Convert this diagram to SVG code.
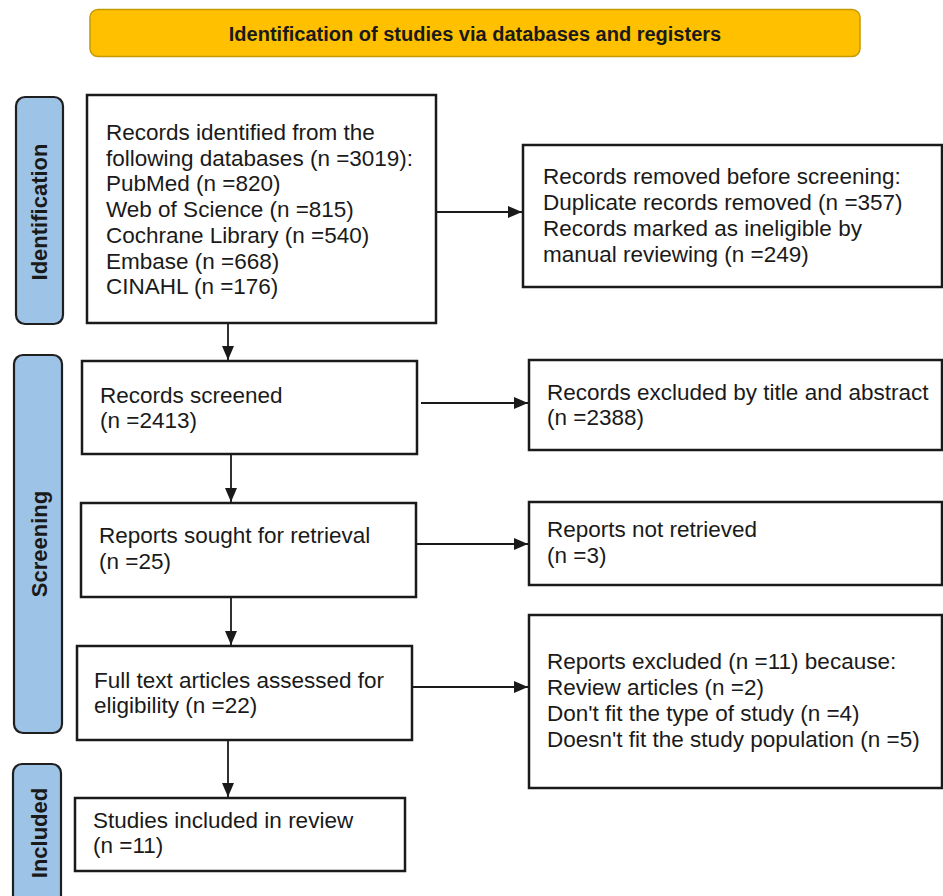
<svg xmlns="http://www.w3.org/2000/svg" width="943" height="896" viewBox="0 0 943 896">
<defs>
<style>
.box{fill:#ffffff;stroke:#1a1a1a;stroke-width:2.5}
.phase{fill:#9dc3e6;stroke:#1f1f1f;stroke-width:2.2}
.t{font-family:"Liberation Sans",Arial,sans-serif;font-size:22.5px;fill:#1a1a1a}
.pt{font-family:"Liberation Sans",Arial,sans-serif;font-size:22px;font-weight:bold;fill:#1a1a1a;text-anchor:middle}
.edge{stroke:#1a1a1a;stroke-width:1.8;fill:none;marker-end:url(#ah)}
</style>
<marker id="ah" markerUnits="userSpaceOnUse" markerWidth="14" markerHeight="12" refX="14" refY="6" orient="auto">
<path d="M0,0 L14,6 L0,12 Z" fill="#1a1a1a"/>
</marker>
</defs>
<rect width="943" height="896" fill="#ffffff"/>

<g id="banner">
<rect x="90" y="9.5" width="770" height="47" rx="8" fill="#ffc000" stroke="#c49a00" stroke-width="1.5"/>
<text x="475" y="40.5" font-family="Liberation Sans,Arial,sans-serif" font-size="20" font-weight="bold" fill="#1a1a1a" text-anchor="middle">Identification of studies via databases and registers</text>
</g>

<g id="phase-identification">
<rect class="phase" x="16" y="97" width="47" height="227" rx="9"/>
<text class="pt" transform="translate(47,212) rotate(-90)">Identification</text>
</g>
<g id="phase-screening">
<rect class="phase" x="14" y="355" width="48" height="378" rx="9"/>
<text class="pt" transform="translate(47,544) rotate(-90)">Screening</text>
</g>
<g id="phase-included">
<rect class="phase" x="13" y="764" width="48" height="150" rx="9"/>
<text class="pt" transform="translate(47,833) rotate(-90)">Included</text>
</g>

<g id="records-identified">
<rect class="box" x="87" y="95" width="349" height="228"/>
<text class="t" x="106" y="140">Records identified from the</text>
<text class="t" x="106" y="165.7">following databases (n =3019):</text>
<text class="t" x="106" y="191.4">PubMed (n =820)</text>
<text class="t" x="106" y="217.1">Web of Science (n =815)</text>
<text class="t" x="106" y="242.8">Cochrane Library (n =540)</text>
<text class="t" x="106" y="268.5">Embase (n =668)</text>
<text class="t" x="106" y="294.2">CINAHL (n =176)</text>
</g>

<g id="records-removed">
<rect class="box" x="523" y="145" width="419" height="142"/>
<text class="t" x="543" y="184">Records removed before screening:</text>
<text class="t" x="543" y="210">Duplicate records removed (n =357)</text>
<text class="t" x="543" y="236">Records marked as ineligible by</text>
<text class="t" x="543" y="262">manual reviewing (n =249)</text>
</g>

<g id="records-screened">
<rect class="box" x="82" y="361" width="335" height="93"/>
<text class="t" x="100" y="403">Records screened</text>
<text class="t" x="100" y="428">(n =2413)</text>
</g>

<g id="records-excluded">
<rect class="box" x="529" y="360" width="413" height="90"/>
<text class="t" x="547" y="400">Records excluded by title and abstract</text>
<text class="t" x="547" y="425">(n =2388)</text>
</g>

<g id="reports-sought">
<rect class="box" x="81" y="503" width="335" height="94"/>
<text class="t" x="99" y="543">Reports sought for retrieval</text>
<text class="t" x="99" y="569">(n =25)</text>
</g>

<g id="reports-not-retrieved">
<rect class="box" x="529" y="502" width="413" height="83"/>
<text class="t" x="547" y="537">Reports not retrieved</text>
<text class="t" x="547" y="563">(n =3)</text>
</g>

<g id="full-text">
<rect class="box" x="77" y="646" width="335" height="94"/>
<text class="t" x="94" y="688">Full text articles assessed for</text>
<text class="t" x="94" y="713">eligibility (n =22)</text>
</g>

<g id="reports-excluded">
<rect class="box" x="529" y="615" width="413" height="173"/>
<text class="t" x="547" y="669">Reports excluded (n =11) because:</text>
<text class="t" x="547" y="695">Review articles (n =2)</text>
<text class="t" x="547" y="721">Don't fit the type of study (n =4)</text>
<text class="t" x="547" y="747">Doesn't fit the study population (n =5)</text>
</g>

<g id="studies-included">
<rect class="box" x="75" y="798" width="330" height="73"/>
<text class="t" x="93" y="828">Studies included in review</text>
<text class="t" x="93" y="853">(n =11)</text>
</g>

<g id="connectors">
<line class="edge" x1="437" y1="212" x2="522" y2="212"/>
<line class="edge" x1="421" y1="403" x2="528" y2="403"/>
<line class="edge" x1="417" y1="544" x2="528" y2="544"/>
<line class="edge" x1="413" y1="687" x2="528" y2="687"/>
<line class="edge" x1="228" y1="324" x2="228" y2="360"/>
<line class="edge" x1="231" y1="455" x2="231" y2="502"/>
<line class="edge" x1="231" y1="598" x2="231" y2="645"/>
<line class="edge" x1="228" y1="741" x2="228" y2="797"/>
</g>
</svg>
